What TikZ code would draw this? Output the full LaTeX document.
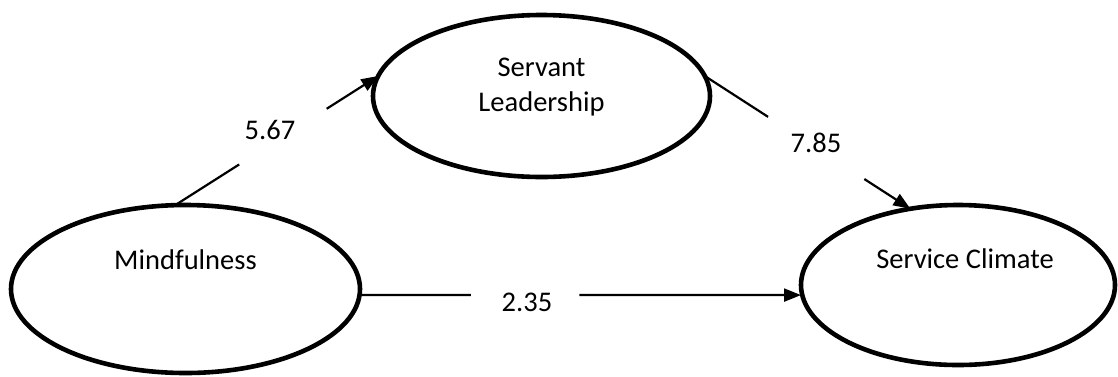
\documentclass[tikz,border=0pt]{standalone}
\usepackage{fontspec}
\setmainfont{Carlito}
\usetikzlibrary{arrows.meta,calc,shapes.geometric}
\begin{document}
\begin{tikzpicture}[x=1pt,y=-1pt,
  font=\fontsize{28.5}{35}\selectfont,
  construct/.style={draw=black, line width=4.6pt, shape=ellipse, inner sep=0pt, outer sep=0pt},
  link/.style={draw=black, line width=2.2pt},
  linkarrow/.style={link, -{Triangle[length=17pt,width=13pt]}},
  weight/.style={inner sep=0pt}]
\useasboundingbox (0,0) rectangle (1118,376);

% latent constructs
\node[construct, minimum width=337pt, minimum height=162pt,
      label={[align=center,yshift=9pt]center:Servant\\Leadership}] (s) at (541.5,96) {};
\node[construct, minimum width=349pt, minimum height=168pt,
      label={[yshift=29pt]center:Mindfulness}] (m) at (185.5,289) {};
\node[construct, minimum width=314pt, minimum height=160pt,
      label={[xshift=7pt,yshift=26pt]center:Service Climate}] (c) at (958,285) {};

% Mindfulness -> Servant Leadership, broken around its weight
\coordinate (ms-a) at ($(m.97)!0.315!(s.173)$);
\coordinate (ms-b) at ($(m.97)!0.746!(s.173)$);
\draw[link] (m.97) -- (ms-a);
\draw[linkarrow] (ms-b) -- (s.173);
\node[weight] (w1) at (270,130) {5.67};

% Servant Leadership -> Service Climate
\coordinate (sc-a) at ($(s.7)!0.308!(c.122)$);
\coordinate (sc-b) at ($(s.7)!0.776!(c.122)$);
\draw[link] (s.7) -- (sc-a);
\draw[linkarrow] (sc-b) -- (c.122);
\node[weight] (w2) at (816,143) {7.85};

% Mindfulness -> Service Climate (direct path)
\coordinate (mc-s) at (m.-2.6);
\coordinate (mc-e) at (c.west |- mc-s);
\coordinate (mc-a) at ($(mc-s)!0.252!(mc-e)$);
\coordinate (mc-b) at ($(mc-s)!0.498!(mc-e)$);
\draw[link] (mc-s) -- (mc-a);
\draw[linkarrow] (mc-b) -- (mc-e);
\node[weight] (w3) at (527,302) {2.35};
\end{tikzpicture}
\end{document}
